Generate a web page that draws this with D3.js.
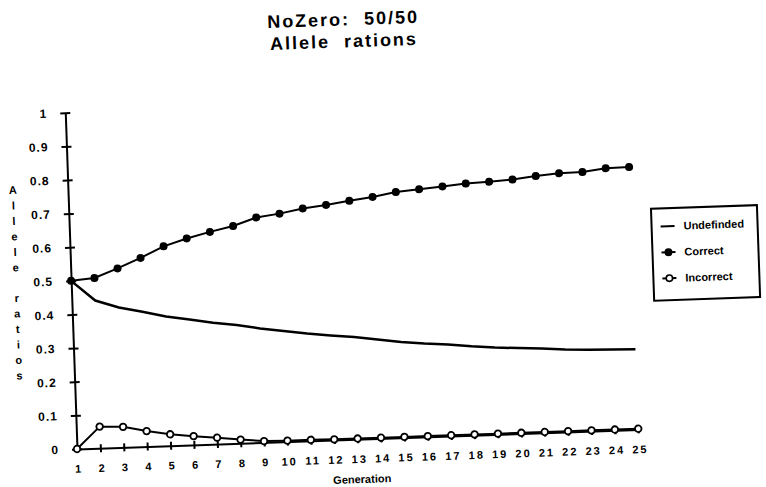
<!DOCTYPE html>
<html>
<head>
<meta charset="utf-8">
<script src="https://cdn.jsdelivr.net/npm/d3@7"></script>
<style>
  html, body { margin: 0; padding: 0; background: #fff; }
  svg { display: block; }
  text { font-family: "Liberation Sans", Arial, Helvetica, sans-serif; font-weight: bold; fill: #000; }
</style>
</head>
<body>
<svg id="chart" width="766" height="487"></svg>
<script>
// ---------------- data ----------------
const generations = d3.range(1, 26);
const undefinedVals = [0.5, 0.439, 0.416, 0.401, 0.384, 0.373, 0.361, 0.352, 0.339, 0.329, 0.319, 0.311, 0.304,
                       0.294, 0.284, 0.277, 0.272, 0.264, 0.258, 0.254, 0.250, 0.245, 0.242, 0.240, 0.238];
const correctVals   = [0.5, 0.506, 0.532, 0.561, 0.593, 0.614, 0.631, 0.646, 0.669, 0.678, 0.691, 0.699, 0.709,
                       0.718, 0.730, 0.736, 0.742, 0.748, 0.751, 0.755, 0.763, 0.769, 0.770, 0.779, 0.780];
const incorrectVals = [0, 0.064, 0.061, 0.046, 0.034, 0.026, 0.019, 0.011, 0.004, 0.003, 0.003, 0.002, 0.002,
                       0.002, 0.002, 0.002, 0.002, 0.002, 0.002, 0.002, 0.002, 0.002, 0.002, 0.002, 0.002];
const yTickValues = [0, 0.1, 0.2, 0.3, 0.4, 0.5, 0.6, 0.7, 0.8, 0.9, 1];
const yTickLabels = ["0", "0.1", "0.2", "0.3", "0.4", "0.5", "0.6", "0.7", "0.8", "0.9", "1"];
const seriesNames = ["Undefinded", "Correct", "Incorrect"];
const titleLines = ["NoZero:  50/50", "Allele  rations"];
const xTitle = "Generation";
const yTitleWords = ["Allele", "ratios"];

// ---------------- layout ----------------
const svg = d3.select("#chart");
svg.append("rect").attr("width", 766).attr("height", 487).attr("fill", "#fff");

const ox = 77, oy = 449;
const g = svg.append("g").attr("transform", `rotate(-2, ${ox}, ${oy})`);

const x = d3.scaleLinear().domain([1, 25]).range([77, 638.6]);
const y = d3.scaleLinear().domain([0, 1]).range([449, 112.5]);

// title
g.append("g").selectAll("text").data(titleLines).join("text")
  .attr("x", 358).attr("y", (d, i) => 35 + i * 22)
  .attr("text-anchor", "middle")
  .style("white-space", "pre")
  .style("font-size", "18px")
  .style("letter-spacing", "2px")
  .text(d => d);

// y axis
const yAxis = d3.axisLeft(y).tickValues(yTickValues)
  .tickFormat((d, i) => yTickLabels[i]).tickSizeOuter(0).tickSizeInner(5).tickPadding(13);
const gy = g.append("g").attr("transform", `translate(${ox},0)`).call(yAxis);
gy.select(".domain").attr("stroke", "#000").attr("stroke-width", 2);
gy.selectAll(".tick line").attr("x1", -5).attr("x2", 5).attr("stroke", "#000").attr("stroke-width", 2);
gy.selectAll(".tick text").style("font-size", "12px").style("letter-spacing", "1px")
  .style("font-family", "'Liberation Sans', Arial, sans-serif").style("font-weight", "bold");

// x axis
const xAxis = d3.axisBottom(x).tickValues(generations).tickFormat(d => String(d))
  .tickSizeOuter(0).tickSizeInner(4).tickPadding(12);
const gx = g.append("g").attr("transform", `translate(0,${oy})`).call(xAxis);
gx.select(".domain").attr("stroke", "#000").attr("stroke-width", 2);
gx.selectAll(".tick line").attr("y1", -4).attr("y2", 4).attr("stroke", "#000").attr("stroke-width", 2);
gx.selectAll(".tick text").style("font-size", "11px").style("letter-spacing", "2px")
  .style("font-family", "'Liberation Sans', Arial, sans-serif").style("font-weight", "bold")
  .attr("dx", "1px");

// axis titles
g.append("text").attr("x", 361).attr("y", 493).attr("text-anchor", "middle")
  .style("font-size", "11px").text(xTitle);

const yLetters = [];
let yy = 188;
yTitleWords.forEach((w, wi) => {
  if (wi > 0) yy += 15;
  for (const ch of w) { yLetters.push({ ch, y: yy }); yy += 15.5; }
});
g.append("g").selectAll("text").data(yLetters).join("text")
  .attr("x", 22).attr("y", d => d.y).attr("dy", "0.35em")
  .attr("text-anchor", "middle").style("font-size", "11px").text(d => d.ch);

// lines
const line = d3.line().x((d, i) => x(generations[i])).y(d => y(d));
g.append("path").datum(undefinedVals).attr("d", line)
  .attr("fill", "none").attr("stroke", "#000").attr("stroke-width", 2.5);
g.append("path").datum(correctVals).attr("d", line)
  .attr("fill", "none").attr("stroke", "#000").attr("stroke-width", 2);
g.append("path").datum(incorrectVals).attr("d", line)
  .attr("fill", "none").attr("stroke", "#000").attr("stroke-width", 2);

g.append("g").selectAll("circle").data(correctVals).join("circle")
  .attr("cx", (d, i) => x(generations[i])).attr("cy", d => y(d)).attr("r", 4).attr("fill", "#000");
g.append("g").selectAll("circle").data(incorrectVals).join("circle")
  .attr("cx", (d, i) => x(generations[i])).attr("cy", d => y(d)).attr("r", 3.3)
  .attr("fill", "#fff").attr("stroke", "#000").attr("stroke-width", 1.8);

// legend
const lg = g.append("g");
lg.append("rect").attr("x", 659).attr("y", 229).attr("width", 106).attr("height", 92)
  .attr("fill", "#fff").attr("stroke", "#000").attr("stroke-width", 2);
const items = lg.selectAll("g.item").data(seriesNames).join("g").attr("class", "item")
  .attr("transform", (d, i) => `translate(675, ${247 + i * 26})`);
items.append("line").attr("x1", -7).attr("x2", 7).attr("stroke", "#000").attr("stroke-width", 2);
items.filter((d, i) => i === 1).append("circle").attr("r", 4).attr("fill", "#000");
items.filter((d, i) => i === 2).append("circle").attr("r", 3.2).attr("fill", "#fff")
  .attr("stroke", "#000").attr("stroke-width", 1.6);
items.append("text").attr("x", 16).attr("dy", "0.35em").style("font-size", "11px").text(d => d);
</script>
</body>
</html>
